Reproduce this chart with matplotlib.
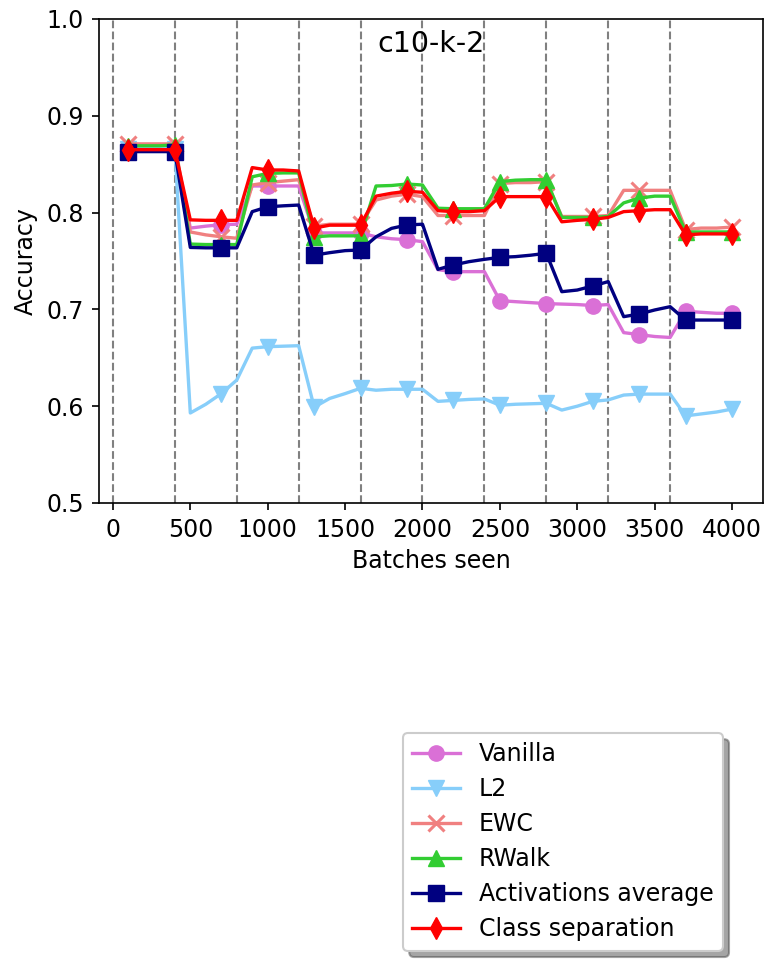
import numpy as np
import matplotlib
matplotlib.use("Agg")
import matplotlib.pyplot as plt
from matplotlib.patches import Shadow

batches = list(range(100, 4001, 100))

vanilla = [0.865, 0.865, 0.865, 0.865, 0.784, 0.786, 0.7875, 0.788, 0.8275, 0.8275,
           0.8275, 0.8275, 0.779, 0.779, 0.779, 0.779, 0.775, 0.773, 0.772, 0.770,
           0.741, 0.739, 0.739, 0.739, 0.709, 0.708, 0.707, 0.706, 0.7055, 0.705,
           0.704, 0.705, 0.676, 0.674, 0.672, 0.671, 0.698, 0.697, 0.696, 0.696]
l2 = [0.866, 0.866, 0.866, 0.866, 0.593, 0.602, 0.613, 0.627, 0.660, 0.6615,
      0.662, 0.6625, 0.599, 0.608, 0.613, 0.6185, 0.6165, 0.6175, 0.6175, 0.6175,
      0.605, 0.606, 0.607, 0.6075, 0.601, 0.602, 0.6025, 0.603, 0.596, 0.600,
      0.605, 0.6065, 0.6115, 0.6125, 0.6125, 0.6125, 0.590, 0.592, 0.594, 0.597]
ewc = [0.871, 0.871, 0.871, 0.871, 0.780, 0.777, 0.775, 0.7735, 0.8285, 0.831,
       0.8325, 0.834, 0.786, 0.788, 0.788, 0.788, 0.813, 0.817, 0.819, 0.8165,
       0.797, 0.797, 0.797, 0.797, 0.830, 0.831, 0.831, 0.832, 0.796, 0.796,
       0.796, 0.797, 0.823, 0.823, 0.823, 0.823, 0.7825, 0.784, 0.784, 0.785]
rwalk = [0.869, 0.869, 0.869, 0.870, 0.7675, 0.767, 0.767, 0.767, 0.837, 0.8405,
         0.841, 0.841, 0.775, 0.776, 0.776, 0.776, 0.8275, 0.828, 0.8295, 0.8285,
         0.8045, 0.804, 0.804, 0.804, 0.832, 0.8335, 0.834, 0.834, 0.795, 0.795,
         0.795, 0.796, 0.810, 0.815, 0.817, 0.817, 0.780, 0.780, 0.780, 0.780]
act_avg = [0.863, 0.863, 0.863, 0.863, 0.764, 0.7636, 0.7636, 0.7636, 0.801, 0.806,
           0.807, 0.8078, 0.756, 0.7586, 0.7607, 0.7614, 0.775, 0.7837, 0.7872, 0.788,
           0.7414, 0.7459, 0.7493, 0.7517, 0.7538, 0.7545, 0.756, 0.758, 0.7183, 0.720,
           0.7242, 0.7287, 0.6925, 0.6952, 0.6994, 0.7028, 0.689, 0.689, 0.689, 0.689]
class_sep = [0.865, 0.865, 0.865, 0.865, 0.7925, 0.792, 0.792, 0.792, 0.8465, 0.844,
             0.844, 0.843, 0.784, 0.787, 0.787, 0.787, 0.817, 0.820, 0.822, 0.821,
             0.802, 0.801, 0.801, 0.802, 0.8165, 0.8165, 0.8165, 0.8165, 0.7905, 0.792,
             0.793, 0.795, 0.801, 0.802, 0.803, 0.803, 0.777, 0.778, 0.778, 0.778]

series = [
    ("Vanilla", vanilla, "orchid", "o"),
    ("L2", l2, "lightskyblue", "v"),
    ("EWC", ewc, "lightcoral", "x"),
    ("RWalk", rwalk, "limegreen", "^"),
    ("Activations average", act_avg, "navy", "s"),
    ("Class separation", class_sep, "red", "d"),
]
task_boundaries = list(range(0, 3601, 400))

fig = plt.figure(figsize=(7.67, 9.61), dpi=100)
ax = fig.add_axes([99 / 767, 1 - 503 / 961, 664 / 767, 484 / 961])

for xb in task_boundaries:
    ax.axvline(xb, color="gray", linestyle="--", linewidth=1.5, zorder=1)

for name, vals, color, marker in series:
    ax.plot(batches, vals, color=color, marker=marker, markevery=3,
            linewidth=2.4, markersize=11,
            markeredgewidth=2.2 if marker == "x" else 1,
            label=name, zorder=2)

ax.set_xlim(-90, 4200)
ax.set_ylim(0.5, 1.0)
ax.set_xticks(range(0, 4001, 500))
ax.set_xlabel("Batches seen", fontsize=17, labelpad=5)
ax.set_ylabel("Accuracy", fontsize=17, labelpad=6)
ax.tick_params(labelsize=17, length=5, width=1.2, pad=6)
for sp in ax.spines.values():
    sp.set_linewidth(1.2)
ax.text(0.5, 0.948, "c10-k-2", transform=ax.transAxes, ha="center", va="center",
        fontsize=20.5)

handles, labels = ax.get_legend_handles_labels()
leg = fig.legend(handles, labels, loc="upper left",
                 bbox_to_anchor=(403 / 767, 1 - 733 / 961), borderaxespad=0,
                 shadow=False, fontsize=17, labelspacing=0.465, framealpha=1)
leg.get_frame().set_linewidth(1.5)

# drop shadow behind the legend box
fig.canvas.draw()
shadow = Shadow(leg.legendPatch, 4.5, -4.5)
shadow.set_zorder(leg.get_zorder() - 0.1)
fig.add_artist(shadow)

fig.savefig("out.png", dpi=100)
